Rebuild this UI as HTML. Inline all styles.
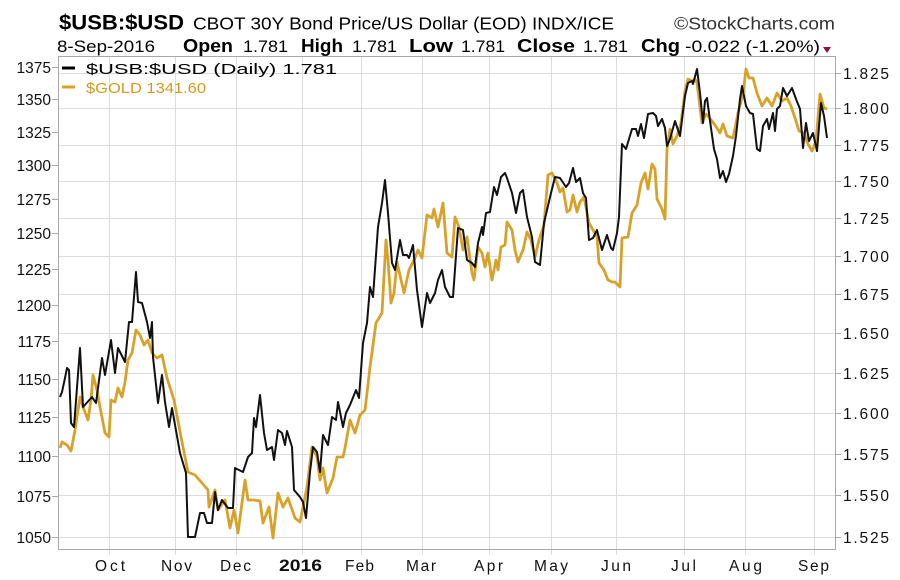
<!DOCTYPE html>
<html>
<head>
<meta charset="utf-8">
<style>
html,body{margin:0;padding:0;background:#fff;}
svg{display:block;font-family:"Liberation Sans",Arial,sans-serif;}
</style>
</head>
<body>
<svg width="900" height="580" viewBox="0 0 900 580" xmlns="http://www.w3.org/2000/svg">
<rect width="900" height="580" fill="#fff"/>

<!-- Header -->
<text x="59" y="29.5" font-size="21" font-weight="bold" textLength="125" lengthAdjust="spacingAndGlyphs" fill="#000">$USB:$USD</text>
<text x="193" y="29.5" font-size="17.5" textLength="421" lengthAdjust="spacingAndGlyphs" fill="#000">CBOT 30Y Bond Price/US Dollar (EOD) INDX/ICE</text>
<text x="674" y="29.5" font-size="17.5" textLength="161" lengthAdjust="spacingAndGlyphs" fill="#333">©StockCharts.com</text>

<text x="57" y="52" font-size="17" textLength="98" lengthAdjust="spacingAndGlyphs" fill="#000">8-Sep-2016</text>
<text x="183" y="52" font-size="18" font-weight="bold" textLength="50" lengthAdjust="spacingAndGlyphs">Open</text>
<text x="243" y="52" font-size="17" textLength="45" lengthAdjust="spacingAndGlyphs">1.781</text>
<text x="301" y="52" font-size="18" font-weight="bold" textLength="42" lengthAdjust="spacingAndGlyphs">High</text>
<text x="352" y="52" font-size="17" textLength="45" lengthAdjust="spacingAndGlyphs">1.781</text>
<text x="409" y="52" font-size="18" font-weight="bold" textLength="44" lengthAdjust="spacingAndGlyphs">Low</text>
<text x="461" y="52" font-size="17" textLength="44" lengthAdjust="spacingAndGlyphs">1.781</text>
<text x="517" y="52" font-size="18" font-weight="bold" textLength="58" lengthAdjust="spacingAndGlyphs">Close</text>
<text x="583" y="52" font-size="17" textLength="45" lengthAdjust="spacingAndGlyphs">1.781</text>
<text x="641" y="52" font-size="18" font-weight="bold" textLength="39" lengthAdjust="spacingAndGlyphs">Chg</text>
<text x="685" y="52" font-size="17" textLength="135" lengthAdjust="spacingAndGlyphs">-0.022 (-1.20%)</text>
<polygon points="823,47 831,47 827,53" fill="#8b1538"/>

<!-- Grid: horizontal (right axis log scale) -->
<g stroke="#dcdcdc" stroke-width="1">
<line x1="59" x2="835" y1="73.5" y2="73.5"/>
<line x1="59" x2="835" y1="108.5" y2="108.5"/>
<line x1="59" x2="835" y1="145.5" y2="145.5"/>
<line x1="59" x2="835" y1="181.5" y2="181.5"/>
<line x1="59" x2="835" y1="218.5" y2="218.5"/>
<line x1="59" x2="835" y1="256.5" y2="256.5"/>
<line x1="59" x2="835" y1="294.5" y2="294.5"/>
<line x1="59" x2="835" y1="333.5" y2="333.5"/>
<line x1="59" x2="835" y1="373.5" y2="373.5"/>
<line x1="59" x2="835" y1="413.5" y2="413.5"/>
<line x1="59" x2="835" y1="454.5" y2="454.5"/>
<line x1="59" x2="835" y1="495.5" y2="495.5"/>
<line x1="59" x2="835" y1="537.5" y2="537.5"/>
</g>
<!-- Grid: vertical (months) -->
<g stroke="#dcdcdc" stroke-width="1">
<line x1="109.5" x2="109.5" y1="57" y2="555"/>
<line x1="175.5" x2="175.5" y1="57" y2="555"/>
<line x1="236.5" x2="236.5" y1="57" y2="555"/>
<line x1="302.5" x2="302.5" y1="57" y2="555"/>
<line x1="361.5" x2="361.5" y1="57" y2="555"/>
<line x1="422.5" x2="422.5" y1="57" y2="555"/>
<line x1="489.5" x2="489.5" y1="57" y2="555"/>
<line x1="551.5" x2="551.5" y1="57" y2="555"/>
<line x1="616.5" x2="616.5" y1="57" y2="555"/>
<line x1="684.5" x2="684.5" y1="57" y2="555"/>
<line x1="745.5" x2="745.5" y1="57" y2="555"/>
<line x1="814.5" x2="814.5" y1="57" y2="555"/>
</g>

<!-- Legend -->
<line x1="62" x2="75" y1="68" y2="68" stroke="#000" stroke-width="3"/>
<text x="86" y="74" font-size="15" textLength="251" lengthAdjust="spacingAndGlyphs" fill="#000">$USB:$USD (Daily) 1.781</text>
<line x1="62" x2="75" y1="87" y2="87" stroke="#d8a22a" stroke-width="3"/>
<text x="86" y="93" font-size="15" textLength="120" lengthAdjust="spacingAndGlyphs" fill="#d39a20">$GOLD 1341.60</text>

<!-- Gold series -->
<polyline fill="none" stroke="#d8a22a" stroke-width="2.8" stroke-linejoin="round" points="60,448 62,442 67,445 71,451 75,430 80,397 83,407 88,420 91,400 93,375 97,390 100,407 105,433 109,437 111,400 115,402 118,388 122,397 125,382 128,360 132,353 136,330 140,335 144,345 148,340 152,353 157,358 162,355 167,378 174,400 182,442 188,472 195,475 202,483 208,490 209,507 215,490 218,510 225,500 230,528 234,510 238,533 245,480 248,500 254,500 260,501 263,523 269,507 273,538 278,493 283,507 288,498 295,518 300,522 303,507 307,487 312,447 317,457 320,480 323,468 327,493 333,478 337,457 343,457 345,448 350,420 355,433 360,415 365,410 370,367 376,323 382,313 386,240 388,260 391,303 394,293 397,262 404,293 409,270 415,258 418,250 422,258 427,215 432,218 434,209 438,227 443,203 447,253 452,257 455,217 459,227 463,250 467,237 472,273 474,280 478,247 482,253 485,267 488,253 492,280 496,260 498,270 501,247 505,245 507,222 512,230 515,250 518,262 523,250 527,232 531,240 535,257 539,240 544,225 548,175 552,173 557,183 560,192 563,188 567,212 570,210 573,195 577,212 580,202 584,197 589,223 593,230 597,237 599,263 604,270 608,280 612,282 615,282 620,287 622,238 628,237 632,213 637,205 641,183 645,173 648,189 652,164 655,169 657,199 662,209 665,219 667,149 670,129 673,144 677,136 681,123 685,91 688,79 692,81 695,79 697,83 702,123 706,114 708,116 712,121 717,128 720,133 723,124 727,136 733,138 738,113 743,94 746,69 749,78 753,78 757,93 762,106 767,98 772,106 777,93 782,101 787,98 791,106 795,118 799,131 804,133 808,144 812,151 816,141 820,94 824,108 827,109"/>

<!-- Black series -->
<polyline fill="none" stroke="#111" stroke-width="2" stroke-linejoin="round" points="60,397 62,392 65,378 67,368 69,370 71,423 74,427 80,348 83,407 92,397 96,403 102,358 105,375 111,340 115,373 118,348 125,362 129,322 132,322 136,272 138,302 142,303 147,322 150,338 152,322 153,357 158,403 162,375 165,402 169,427 172,408 180,453 186,473 188,537 195,537 200,513 204,513 207,523 212,523 215,492 218,510 222,500 228,508 233,508 235,468 243,472 248,457 252,453 254,418 256,427 260,395 264,433 267,450 272,447 274,460 278,430 282,433 285,445 287,431 292,447 294,490 300,497 303,502 306,518 310,472 313,447 317,452 320,472 323,435 328,445 332,417 336,420 338,402 343,427 346,413 350,405 356,390 359,398 363,343 367,323 370,287 373,297 378,227 382,203 385,180 388,213 392,263 395,270 400,240 403,255 407,255 409,258 413,245 417,290 422,327 427,293 430,303 435,293 438,280 442,270 445,287 450,297 453,297 458,228 463,230 467,260 472,263 475,267 478,243 482,227 483,235 486,213 490,212 494,187 497,195 501,177 505,173 507,178 512,193 516,213 520,193 523,190 527,217 532,237 535,262 540,265 544,223 547,210 551,193 555,177 560,178 566,187 569,183 573,168 576,182 580,178 583,193 586,198 589,240 593,238 597,230 602,250 607,235 611,248 613,250 617,233 619,217 622,144 626,149 632,129 636,129 638,136 641,124 644,138 648,114 653,113 656,116 658,126 662,119 665,128 667,146 670,139 675,121 680,136 685,96 688,83 692,81 693,84 697,69 700,93 703,123 705,101 707,98 711,128 714,149 717,159 720,178 723,171 726,182 729,174 733,156 736,136 740,99 742,86 746,106 750,113 753,114 757,149 760,151 763,126 767,119 769,129 773,113 775,131 777,109 780,106 783,88 787,96 792,88 796,99 800,109 803,148 806,123 809,141 813,133 817,151 821,103 824,116 827,138"/>

<!-- Plot frame -->
<rect x="58.5" y="56.5" width="777" height="493" fill="none" stroke="#a8a8a8" stroke-width="1"/>

<!-- Left axis ticks & labels (log) -->
<g stroke="#a8a8a8" stroke-width="1">
<line x1="52" x2="58" y1="67.5" y2="67.5"/>
<line x1="52" x2="58" y1="99.5" y2="99.5"/>
<line x1="52" x2="58" y1="132.5" y2="132.5"/>
<line x1="52" x2="58" y1="165.5" y2="165.5"/>
<line x1="52" x2="58" y1="199.5" y2="199.5"/>
<line x1="52" x2="58" y1="233.5" y2="233.5"/>
<line x1="52" x2="58" y1="269.5" y2="269.5"/>
<line x1="52" x2="58" y1="305.5" y2="305.5"/>
<line x1="52" x2="58" y1="341.5" y2="341.5"/>
<line x1="52" x2="58" y1="379.5" y2="379.5"/>
<line x1="52" x2="58" y1="417.5" y2="417.5"/>
<line x1="52" x2="58" y1="456.5" y2="456.5"/>
<line x1="52" x2="58" y1="496.5" y2="496.5"/>
<line x1="52" x2="58" y1="537.5" y2="537.5"/>
</g>
<g font-size="15.5" fill="#111" text-anchor="end">
<text x="51" y="73">1375</text>
<text x="51" y="105">1350</text>
<text x="51" y="138">1325</text>
<text x="51" y="171">1300</text>
<text x="51" y="205">1275</text>
<text x="51" y="239">1250</text>
<text x="51" y="275">1225</text>
<text x="51" y="311">1200</text>
<text x="51" y="347">1175</text>
<text x="51" y="385">1150</text>
<text x="51" y="423">1125</text>
<text x="51" y="462">1100</text>
<text x="51" y="502">1075</text>
<text x="51" y="543">1050</text>
</g>

<!-- Right axis ticks & labels (log) -->
<g stroke="#a8a8a8" stroke-width="1">
<line x1="836" x2="841" y1="73.5" y2="73.5"/>
<line x1="836" x2="841" y1="108.5" y2="108.5"/>
<line x1="836" x2="841" y1="145.5" y2="145.5"/>
<line x1="836" x2="841" y1="181.5" y2="181.5"/>
<line x1="836" x2="841" y1="218.5" y2="218.5"/>
<line x1="836" x2="841" y1="256.5" y2="256.5"/>
<line x1="836" x2="841" y1="294.5" y2="294.5"/>
<line x1="836" x2="841" y1="333.5" y2="333.5"/>
<line x1="836" x2="841" y1="373.5" y2="373.5"/>
<line x1="836" x2="841" y1="413.5" y2="413.5"/>
<line x1="836" x2="841" y1="454.5" y2="454.5"/>
<line x1="836" x2="841" y1="495.5" y2="495.5"/>
<line x1="836" x2="841" y1="537.5" y2="537.5"/>
</g>
<g font-size="15.5" fill="#111">
<text x="843" y="79" textLength="46" lengthAdjust="spacing">1.825</text>
<text x="843" y="114" textLength="46" lengthAdjust="spacing">1.800</text>
<text x="843" y="151" textLength="46" lengthAdjust="spacing">1.775</text>
<text x="843" y="187" textLength="46" lengthAdjust="spacing">1.750</text>
<text x="843" y="224" textLength="46" lengthAdjust="spacing">1.725</text>
<text x="843" y="262" textLength="46" lengthAdjust="spacing">1.700</text>
<text x="843" y="300" textLength="46" lengthAdjust="spacing">1.675</text>
<text x="843" y="339" textLength="46" lengthAdjust="spacing">1.650</text>
<text x="843" y="379" textLength="46" lengthAdjust="spacing">1.625</text>
<text x="843" y="419" textLength="46" lengthAdjust="spacing">1.600</text>
<text x="843" y="460" textLength="46" lengthAdjust="spacing">1.575</text>
<text x="843" y="501" textLength="46" lengthAdjust="spacing">1.550</text>
<text x="843" y="543" textLength="46" lengthAdjust="spacing">1.525</text>
</g>

<!-- Month labels -->
<g font-size="15.5" fill="#111">
<text x="95" y="571" textLength="30" lengthAdjust="spacing">Oct</text>
<text x="161" y="571" textLength="31" lengthAdjust="spacing">Nov</text>
<text x="220" y="571" textLength="31" lengthAdjust="spacing">Dec</text>
<text x="279" y="571" font-size="17" font-weight="bold" textLength="43" lengthAdjust="spacingAndGlyphs">2016</text>
<text x="345" y="571" textLength="29" lengthAdjust="spacing">Feb</text>
<text x="406" y="571" textLength="30" lengthAdjust="spacing">Mar</text>
<text x="474" y="571" textLength="29" lengthAdjust="spacing">Apr</text>
<text x="534" y="571" textLength="34" lengthAdjust="spacing">May</text>
<text x="601" y="571" textLength="30" lengthAdjust="spacing">Jun</text>
<text x="671" y="571" textLength="25" lengthAdjust="spacing">Jul</text>
<text x="729" y="571" textLength="33" lengthAdjust="spacing">Aug</text>
<text x="798" y="571" textLength="31" lengthAdjust="spacing">Sep</text>
</g>
</svg>
</body>
</html>
